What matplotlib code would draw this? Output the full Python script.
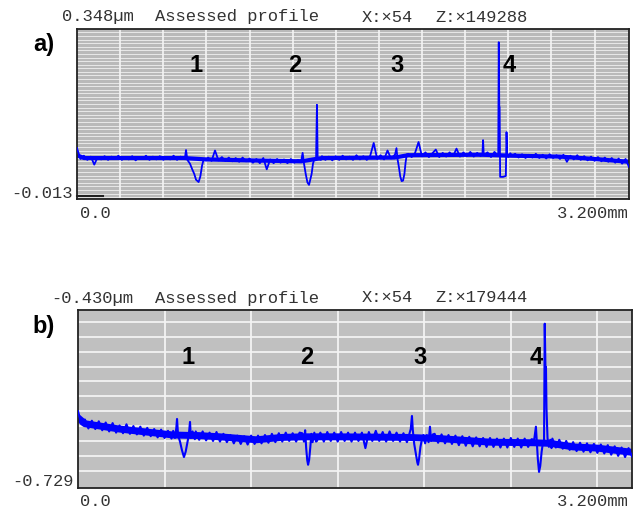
import numpy as np
import matplotlib
matplotlib.use("Agg")
import matplotlib.pyplot as plt

# ---------------- data (x in mm, z in µm) ----------------
x_range_mm = (0.0, 3.2)
ylim_a = (-0.013, 0.348)
ylim_b = (-0.729, -0.430)

header_a = ["0.348µm", "Assessed profile", "X:×54", "Z:×149288"]
header_b = ["-0.430µm", "Assessed profile", "X:×54", "Z:×179444"]
ymin_label_a = "-0.013"
ymin_label_b = "-0.729"
x_labels = ["0.0", "3.200mm"]
feature_labels = ["1", "2", "3", "4"]

# base samples every 0.02 mm (0.00 .. 3.20)
base_x = np.round(np.arange(161) * 0.02, 3)

z_a_base = [
    0.095, 0.072, 0.079, 0.070, 0.077, 0.060, 0.076, 0.071, 0.078, 0.070,
    0.077, 0.072, 0.079, 0.070, 0.076, 0.071, 0.078, 0.069, 0.076, 0.072,
    0.079, 0.070, 0.077, 0.071, 0.078, 0.070, 0.076, 0.071, 0.079, 0.070,
    0.077, 0.072, 0.070, 0.070, 0.070, 0.070, 0.070, 0.070, 0.075, 0.068,
    0.090, 0.069, 0.076, 0.068, 0.075, 0.067, 0.074, 0.066, 0.075, 0.067,
    0.073, 0.064, 0.072, 0.063, 0.074, 0.050, 0.071, 0.063, 0.072, 0.064,
    0.071, 0.063, 0.072, 0.064, 0.070, 0.070, 0.070, 0.070, 0.070, 0.070,
    0.070, 0.078, 0.070, 0.077, 0.069, 0.078, 0.070, 0.079, 0.071, 0.077,
    0.070, 0.080, 0.071, 0.078, 0.070, 0.079, 0.106, 0.072, 0.080, 0.071,
    0.090, 0.073, 0.080, 0.080, 0.080, 0.080, 0.083, 0.076, 0.085, 0.108,
    0.077, 0.086, 0.076, 0.084, 0.092, 0.076, 0.085, 0.077, 0.086, 0.078,
    0.094, 0.077, 0.086, 0.078, 0.087, 0.077, 0.085, 0.078, 0.080, 0.080,
    0.080, 0.080, 0.080, 0.080, 0.080, 0.080, 0.080, 0.083, 0.075, 0.082,
    0.074, 0.081, 0.075, 0.083, 0.074, 0.081, 0.073, 0.082, 0.074, 0.080,
    0.072, 0.081, 0.066, 0.079, 0.071, 0.080, 0.070, 0.078, 0.069, 0.077,
    0.068, 0.076, 0.067, 0.075, 0.066, 0.074, 0.064, 0.073, 0.062, 0.072,
    0.055,
]

# mean level of profile a) (centre of the noise band)
trend_a_x = [0.00, 0.04, 0.62, 0.75, 1.00, 1.30, 1.42, 1.84, 1.92, 2.34, 2.52, 2.80, 3.00, 3.20]
trend_a_z = [0.080, 0.074, 0.074, 0.071, 0.069, 0.067, 0.074, 0.075, 0.080, 0.081, 0.079, 0.077, 0.072, 0.066]

# features of profile a)
fa1_x = [0.626, 0.632, 0.640, 0.655, 0.668, 0.680, 0.690, 0.705, 0.715, 0.725, 0.735, 0.748]
fa1_z = [0.075, 0.091, 0.070, 0.062, 0.050, 0.040, 0.028, 0.023, 0.035, 0.058, 0.072, 0.070]
fa2_x = [1.300, 1.308, 1.316, 1.326, 1.336, 1.345, 1.352, 1.360, 1.368, 1.376, 1.386, 1.391, 1.395, 1.402, 1.414]
fa2_z = [0.068, 0.085, 0.062, 0.040, 0.022, 0.017, 0.028, 0.040, 0.062, 0.072, 0.074, 0.187, 0.075, 0.072, 0.070]
fa3_x = [1.843, 1.852, 1.858, 1.866, 1.874, 1.882, 1.890, 1.898, 1.905, 1.912, 1.919]
fa3_z = [0.080, 0.095, 0.072, 0.055, 0.035, 0.025, 0.026, 0.040, 0.065, 0.082, 0.078]
fa4_x = [2.342, 2.350, 2.354, 2.358, 2.380, 2.400, 2.420, 2.438, 2.442, 2.445, 2.448, 2.450,
         2.453, 2.470, 2.486, 2.490, 2.494, 2.500, 2.512, 2.522]
fa4_z = [0.082, 0.080, 0.112, 0.080, 0.086, 0.076, 0.087, 0.080, 0.080, 0.320, 0.182, 0.182,
         0.034, 0.034, 0.036, 0.129, 0.080, 0.076, 0.084, 0.079]

z_b_base = [
    -0.600, -0.622, -0.614, -0.629, -0.616, -0.630, -0.617, -0.632, -0.619, -0.634,
    -0.620, -0.636, -0.624, -0.637, -0.622, -0.638, -0.625, -0.639, -0.626, -0.641,
    -0.628, -0.642, -0.630, -0.644, -0.631, -0.645, -0.633, -0.646, -0.640, -0.640,
    -0.640, -0.640, -0.640, -0.640, -0.634, -0.648, -0.634, -0.649, -0.636, -0.650,
    -0.635, -0.651, -0.638, -0.652, -0.640, -0.654, -0.641, -0.655, -0.642, -0.656,
    -0.641, -0.655, -0.641, -0.654, -0.640, -0.653, -0.638, -0.652, -0.637, -0.651,
    -0.636, -0.650, -0.637, -0.651, -0.636, -0.643, -0.643, -0.643, -0.643, -0.650,
    -0.636, -0.651, -0.635, -0.650, -0.636, -0.651, -0.635, -0.650, -0.636, -0.651,
    -0.636, -0.650, -0.636, -0.662, -0.635, -0.650, -0.633, -0.650, -0.635, -0.651,
    -0.634, -0.650, -0.636, -0.651, -0.637, -0.652, -0.645, -0.645, -0.645, -0.645,
    -0.645, -0.645, -0.645, -0.638, -0.653, -0.639, -0.654, -0.640, -0.655, -0.641,
    -0.657, -0.642, -0.658, -0.643, -0.659, -0.644, -0.659, -0.645, -0.660, -0.645,
    -0.660, -0.646, -0.661, -0.646, -0.661, -0.645, -0.660, -0.646, -0.661, -0.646,
    -0.660, -0.647, -0.653, -0.653, -0.653, -0.653, -0.653, -0.646, -0.661, -0.648,
    -0.663, -0.650, -0.665, -0.652, -0.667, -0.653, -0.668, -0.654, -0.669, -0.655,
    -0.670, -0.656, -0.671, -0.657, -0.673, -0.659, -0.675, -0.661, -0.677, -0.662,
    -0.676,
]

# mean level of profile b)
trend_b_x = [0.00, 0.04, 0.24, 0.49, 0.55, 0.70, 0.82, 1.03, 1.18, 1.30, 1.50, 1.90,
             2.09, 2.38, 2.63, 2.73, 2.86, 3.00, 3.20]
trend_b_z = [-0.611, -0.621, -0.630, -0.638, -0.640, -0.641, -0.643, -0.648, -0.644, -0.643, -0.643, -0.644,
             -0.646, -0.652, -0.653, -0.654, -0.660, -0.662, -0.669]

# features of profile b)
fb1_x = [0.550, 0.560, 0.568, 0.572, 0.578, 0.590, 0.600, 0.612, 0.622, 0.632, 0.640, 0.647, 0.652, 0.662, 0.675]
fb1_z = [-0.633, -0.645, -0.628, -0.613, -0.640, -0.652, -0.665, -0.677, -0.668, -0.652, -0.640, -0.618, -0.645, -0.634, -0.647]
fb2_x = [1.295, 1.305, 1.312, 1.318, 1.324, 1.329, 1.335, 1.342, 1.348, 1.355, 1.365, 1.375]
fb2_z = [-0.637, -0.651, -0.632, -0.662, -0.682, -0.690, -0.682, -0.660, -0.638, -0.652, -0.636, -0.651]
fb3_x = [1.915, 1.922, 1.929, 1.934, 1.942, 1.952, 1.960, 1.964, 1.970, 1.978, 1.986, 1.995,
         2.005, 2.015, 2.025, 2.033, 2.040, 2.050]
fb3_z = [-0.637, -0.630, -0.608, -0.632, -0.655, -0.672, -0.686, -0.690, -0.680, -0.660, -0.648, -0.640,
         -0.654, -0.640, -0.652, -0.626, -0.650, -0.639]
fb4_x = [2.635, 2.641, 2.645, 2.650, 2.656, 2.663, 2.670, 2.678, 2.686, 2.692, 2.696, 2.700,
         2.703, 2.706, 2.712, 2.720, 2.728, 2.735]
fb4_z = [-0.648, -0.635, -0.626, -0.650, -0.680, -0.702, -0.692, -0.668, -0.652, -0.650, -0.453, -0.526,
         -0.526, -0.595, -0.645, -0.660, -0.648, -0.662]


def assemble(bz, feats):
    pts = []
    for xi, zi in zip(base_x, bz):
        if not any(fx[0] <= xi <= fx[-1] for fx, _ in feats):
            pts.append((xi, zi))
    for fx, fz in feats:
        pts.extend(zip(fx, fz))
    pts.sort()
    arr = np.array(pts)
    return arr[:, 0], arr[:, 1]


xa, za = assemble(z_a_base, [(fa1_x, fa1_z), (fa2_x, fa2_z), (fa3_x, fa3_z), (fa4_x, fa4_z)])
xb, zb = assemble(z_b_base, [(fb1_x, fb1_z), (fb2_x, fb2_z), (fb3_x, fb3_z), (fb4_x, fb4_z)])

# ---------------- drawing ----------------
W, H = 640, 511
fig = plt.figure(figsize=(W / 100, H / 100), dpi=100)
fig.patch.set_facecolor("white")

MONO = "Liberation Mono"
SANS = "Liberation Sans"
BLUE = "#0000ff"
TXT = "#333333"


def fp(x, y):
    return x / W, 1 - y / H


def make_axes(l, t, r, b):
    ax = fig.add_axes([l / W, 1 - b / H, (r - l) / W, (b - t) / H])
    for s in ax.spines.values():
        s.set_color("#222222")
        s.set_linewidth(1.3)
    ax.set_xticks([])
    ax.set_yticks([])
    return ax


# panel a
axa = make_axes(77, 29, 629, 199)
axa.set_facecolor("#b9b9b9")
axa.set_xlim(*x_range_mm)
axa.set_ylim(*ylim_a)
for yv in np.arange(ylim_a[0] + 0.004, ylim_a[1], 0.0076):
    axa.axhline(yv, color="#e6e6e6", lw=0.75, zorder=1)
for xv in np.arange(0.25, 3.2, 0.25):
    axa.axvline(xv, color="#f4f4f4", lw=1.2, zorder=1)
axa.plot(trend_a_x, trend_a_z, color=BLUE, lw=3.0, solid_capstyle="butt", zorder=2)
axa.plot(xa, za, color=BLUE, lw=1.3, zorder=3)
axa.plot([0, 0.15], [-0.0065, -0.0065], color="#222222", lw=1.5, zorder=4, clip_on=False)

# panel b
axb = make_axes(78, 310, 632, 488)
axb.set_facecolor("#c0c0c0")
axb.set_xlim(*x_range_mm)
axb.set_ylim(*ylim_b)
for yv in np.arange(-0.700, -0.440, 0.025):
    axb.axhline(yv, color="#f2f2f2", lw=1.3, zorder=1)
for xv in np.arange(0.5, 3.2, 0.5):
    axb.axvline(xv, color="#f4f4f4", lw=1.3, zorder=1)
axb.plot(trend_b_x, trend_b_z, color=BLUE, lw=5.0, solid_capstyle="butt", zorder=2)
axb.plot(xb, zb, color=BLUE, lw=1.5, zorder=3)

# headers
hx = [155, 362, 435]
for hdr, y, x0 in ((header_a, 17, 62), (header_b, 298, 51)):
    for txt, x in zip(hdr, [x0] + hx):
        fig.text(*fp(x, y), txt, family=MONO, fontsize=12.3, color=TXT, ha="left", va="center")

# min labels and x labels
fig.text(*fp(73, 193), ymin_label_a, family=MONO, fontsize=12.3, color=TXT, ha="right", va="center")
fig.text(*fp(74, 482), ymin_label_b, family=MONO, fontsize=12.3, color=TXT, ha="right", va="center")
for y in (213, 502):
    fig.text(*fp(80, y), x_labels[0], family=MONO, fontsize=12.3, color=TXT, ha="left", va="center")
    fig.text(*fp(629, y), x_labels[1], family=MONO, fontsize=12.3, color=TXT, ha="right", va="center")

# panel letters
fig.text(*fp(44, 44), "a)", family=SANS, fontweight="bold", fontsize=17, ha="center", va="center")
fig.text(*fp(44, 326), "b)", family=SANS, fontweight="bold", fontsize=17, ha="center", va="center")

# feature numbers
na = [196, 295, 397, 509]
nb = [188, 307, 420, 536]
for lab, x in zip(feature_labels, na):
    fig.text(*fp(x, 66), lab, family=SANS, fontweight="bold", fontsize=17, ha="center", va="center")
for lab, x in zip(feature_labels, nb):
    fig.text(*fp(x, 357), lab, family=SANS, fontweight="bold", fontsize=17, ha="center", va="center")

fig.savefig("out.png", dpi=100, facecolor="white")
